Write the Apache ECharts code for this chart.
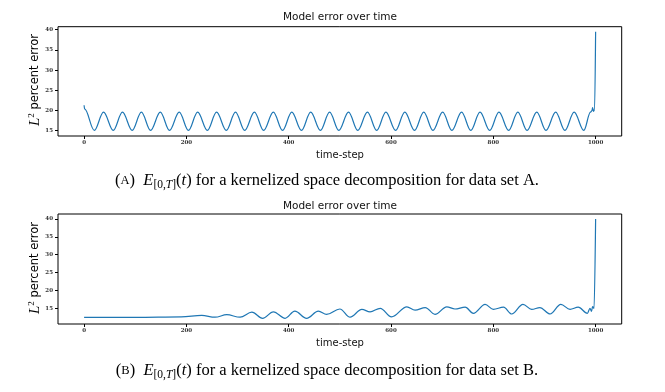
<!DOCTYPE html>
<html>
<head>
<meta charset="utf-8">
<script src="https://cdn.jsdelivr.net/npm/echarts@6/dist/echarts.min.js"></script>
<style>
html,body{margin:0;padding:0;background:#fff;}
#c{width:665px;height:392px;}
</style>
</head>
<body>
<div id="c"></div>
<script>
// ---- data ----
var xTicks = [0, 200, 400, 600, 800, 1000];
var yTicks = [15, 20, 25, 30, 35, 40];

// data set A: time-steps and L2 percent error (extremes of the oscillation)
var tA = [0, 1, 20, 38, 57, 75, 94, 112, 130, 149, 167, 186, 204, 222, 241, 259, 278, 296, 314, 333, 351, 370, 388, 406, 425, 443, 462, 480, 498, 517, 535, 554, 572, 590, 609, 627, 646, 664, 682, 701, 719, 738, 756, 774, 793, 811, 830, 848, 866, 885, 903, 922, 940, 958, 977, 990, 993, 994, 996, 998, 1000];
var eA = [21.3, 20.4, 15.1, 19.6, 15.1, 19.6, 15.1, 19.6, 15.1, 19.6, 15.1, 19.6, 15.1, 19.6, 15.1, 19.6, 15.1, 19.6, 15.1, 19.6, 15.1, 19.6, 15.1, 19.6, 15.1, 19.6, 15.1, 19.6, 15.1, 19.6, 15.1, 19.6, 15.1, 19.6, 15.1, 19.6, 15.1, 19.6, 15.1, 19.6, 15.1, 19.6, 15.1, 19.6, 15.1, 19.6, 15.1, 19.6, 15.1, 19.6, 15.1, 19.6, 15.1, 19.6, 15.1, 19.6, 20.0, 20.7, 19.8, 20.3, 39.5];

// data set B
var tB = [0, 100, 190, 230, 256, 279, 305, 328, 349, 370, 393, 412, 435, 458, 474, 500, 520, 543, 559, 579, 601, 631, 647, 667, 686, 709, 725, 745, 761, 784, 800, 820, 836, 858, 875, 891, 911, 932, 950, 966, 984, 989, 992, 994, 997, 1000];
var eB = [12.45, 12.45, 12.6, 13.0, 12.5, 13.2, 12.5, 13.9, 12.2, 14.0, 12.2, 14.2, 12.2, 14.2, 13.3, 14.8, 12.5, 14.7, 14.0, 15.0, 12.6, 15.4, 14.5, 15.2, 13.3, 15.4, 14.8, 15.3, 13.6, 16.1, 14.7, 15.3, 13.4, 16.1, 14.7, 15.2, 13.4, 16.1, 14.7, 15.3, 13.6, 15.0, 14.1, 15.5, 15.0, 40.0];

var chartTitle = 'Model error over time';
var xName = 'time-step';

function pairs(t, v) { return t.map(function (x, i) { return [x, v[i]]; }); }

var sans = 'DejaVu Sans';
var serif = 'Liberation Serif';
var tickFont = { fontFamily: 'DejaVu Serif', fontSize: 5.5, fontWeight: 'bold', color: '#333' };

function xAxis(g) {
  return {
    type: 'value', gridIndex: g, min: -51, max: 1051,
    axisLine: { show: false, onZero: false }, splitLine: { show: false },
    axisTick: { show: true, length: 3, customValues: xTicks, lineStyle: { color: '#000', width: 1 } },
    axisLabel: Object.assign({ customValues: xTicks, margin: 4, formatter: function (v) { return String(v); } }, tickFont)
  };
}
function yAxis(g, mn, mx) {
  return {
    type: 'value', gridIndex: g, min: mn, max: mx,
    axisLine: { show: false, onZero: false }, splitLine: { show: false },
    axisTick: { show: true, length: 3, customValues: yTicks, lineStyle: { color: '#000', width: 1 } },
    axisLabel: Object.assign({ customValues: yTicks, margin: 5, formatter: function (v) { return String(v); } }, tickFont)
  };
}
function line(g, data) {
  return {
    type: 'line', xAxisIndex: g, yAxisIndex: g, data: data,
    showSymbol: false, smooth: 0.36, smoothMonotone: 'x',
    lineStyle: { color: '#1f77b4', width: 1.2 }, silent: true
  };
}

var cfs = 16.5;
var captionRich = {
  n: { fontFamily: serif, fontSize: cfs, color: '#111', lineHeight: 20 },
  sc: { fontFamily: serif, fontSize: 12.5, color: '#111', lineHeight: 20 },
  it: { fontFamily: serif, fontSize: cfs, fontStyle: 'italic', color: '#111', lineHeight: 20 },
  sub: { fontFamily: serif, fontSize: 11.5, color: '#111', verticalAlign: 'bottom', lineHeight: 20 },
  subit: { fontFamily: serif, fontSize: 11.5, fontStyle: 'italic', color: '#111', verticalAlign: 'bottom', lineHeight: 20 }
};
function caption(letter) {
  return '{n|(}{sc|' + letter + '}{n|)  }{it|E}{sub|[0,}{subit|T}{sub|]}{n|(}{it|t}{n|) for a kernelized space decomposition for data set ' + letter + '.}';
}
var ylabRich = {
  l: { fontFamily: serif, fontSize: 15, fontStyle: 'italic', color: '#111', lineHeight: 16 },
  s: { fontFamily: serif, fontSize: 9, color: '#111', verticalAlign: 'top', lineHeight: 16 },
  p: { fontFamily: sans, fontSize: 11.5, color: '#111', lineHeight: 16 }
};
var ylab = '{l|L}{s|2}{p| percent error}';

function txt(x, y, text, font) {
  return { type: 'text', x: x, y: y, silent: true,
    style: { text: text, align: 'center', verticalAlign: 'middle', fill: '#111', font: font } };
}

var chart = echarts.init(document.getElementById('c'), null, { renderer: 'canvas' });
chart.setOption({
  animation: false,
  backgroundColor: '#fff',
  grid: [
    { left: 58, top: 26.7, width: 563.7, height: 109.3, show: true, borderColor: '#000', borderWidth: 1, containLabel: false },
    { left: 58, top: 214, width: 563.7, height: 110, show: true, borderColor: '#000', borderWidth: 1, containLabel: false }
  ],
  xAxis: [xAxis(0), xAxis(1)],
  yAxis: [yAxis(0, 13.7, 40.75), yAxis(1, 10.6, 41.4)],
  series: [line(0, pairs(tA, eA)), line(1, pairs(tB, eB))],
  graphic: [
    txt(340, 17.5, chartTitle, '10.5px "DejaVu Sans"'),
    txt(340, 155, xName, '10px "DejaVu Sans"'),
    { type: 'text', x: 35, y: 80, rotation: Math.PI / 2, silent: true,
      style: { text: ylab, rich: ylabRich, align: 'center', verticalAlign: 'middle' } },
    { type: 'text', x: 327, y: 181, silent: true,
      style: { text: caption('A'), rich: captionRich, align: 'center', verticalAlign: 'middle' } },

    txt(340, 206, chartTitle, '10.5px "DejaVu Sans"'),
    txt(340, 343.5, xName, '10px "DejaVu Sans"'),
    { type: 'text', x: 35, y: 268, rotation: Math.PI / 2, silent: true,
      style: { text: ylab, rich: ylabRich, align: 'center', verticalAlign: 'middle' } },
    { type: 'text', x: 327, y: 371, silent: true,
      style: { text: caption('B'), rich: captionRich, align: 'center', verticalAlign: 'middle' } }
  ]
});
</script>
</body>
</html>
